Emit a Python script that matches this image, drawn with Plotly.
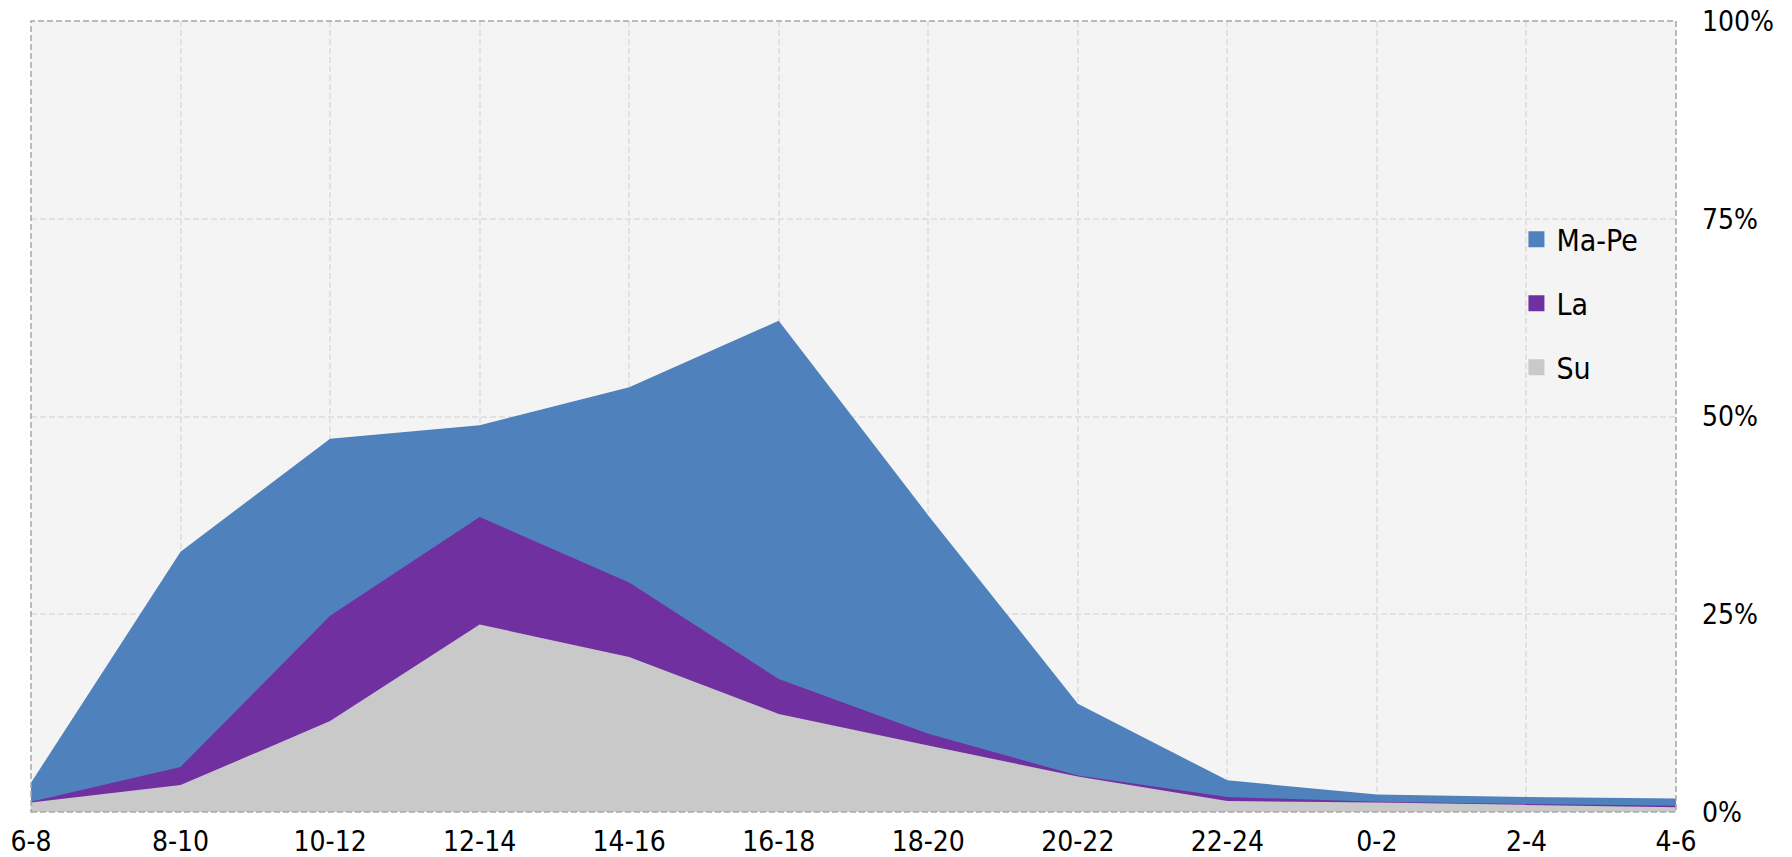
import plotly.graph_objects as go

categories = ["6-8", "8-10", "10-12", "12-14", "14-16", "16-18", "18-20",
              "20-22", "22-24", "0-2", "2-4", "4-6"]
ma_pe = [3.7, 32.9, 47.2, 48.9, 53.7, 62.1, 37.5, 13.7, 4.0, 2.2, 1.9, 1.7]
la = [1.3, 5.7, 24.8, 37.3, 29.0, 16.8, 9.9, 4.6, 1.9, 1.3, 1.0, 0.8]
su = [1.2, 3.4, 11.5, 23.7, 19.6, 12.4, 8.4, 4.5, 1.4, 1.2, 0.9, 0.6]
y_ticks = [0, 25, 50, 75, 100]
y_tick_labels = ["0%", "25%", "50%", "75%", "100%"]

series_names = ["Ma-Pe", "La", "Su"]
series_values = [ma_pe, la, su]
colors = ["#4F81BD", "#7030A0", "#C9C9C9"]

FONT = "DejaVu Sans Condensed, DejaVu Sans, sans-serif"
xs = list(range(len(categories)))

fig = go.Figure()
for name, vals, col in zip(series_names, series_values, colors):
    fig.add_trace(go.Scatter(
        x=xs, y=vals, mode="lines", fill="tozeroy",
        line=dict(width=0, color=col), fillcolor=col,
        showlegend=False, hoverinfo="skip", name=name))
# legend entries (square markers)
for i, (name, col) in enumerate(zip(series_names, colors)):
    fig.add_trace(go.Scatter(
        x=[None], y=[None], mode="markers", name=name,
        marker=dict(symbol="square", size=18, color=col),
        legendgroup="g%d" % i, showlegend=True))

fig.update_layout(
    width=1792, height=857,
    margin=dict(l=23, r=124, t=13, b=53),
    paper_bgcolor="white", plot_bgcolor="#F4F4F4",
    font=dict(family=FONT, size=28, color="black"),
    legend=dict(x=0.903, y=0.757, xanchor="left", yanchor="top",
                bgcolor="rgba(0,0,0,0)", font=dict(size=30, family=FONT),
                tracegroupgap=22, itemwidth=30),
    xaxis=dict(
        range=[0, len(categories) - 1], tickmode="array", tickvals=xs,
        ticktext=categories, showgrid=True, gridcolor="#E2E2E2",
        griddash="6px,3px", gridwidth=1.5, zeroline=False, showline=False,
        ticks="", tickfont=dict(size=28), automargin=False,
        ticklabelstandoff=10, ticklabeloverflow="allow"),
    yaxis=dict(
        range=[0, 100], side="right", tickmode="array", tickvals=y_ticks,
        ticktext=y_tick_labels,
        showgrid=True, gridcolor="#E2E2E2", griddash="6px,3px", gridwidth=1.5,
        zeroline=False, showline=False, ticks="", ticklabelstandoff=25,
        tickfont=dict(size=28), automargin=False, ticklabeloverflow="allow"),
    shapes=[dict(type="rect", xref="paper", yref="paper", x0=0, x1=1, y0=0, y1=1,
                 line=dict(color="#A6A6A6", width=1.5, dash="6px,3px"),
                 layer="above")],
)

fig.write_html("out.html")
